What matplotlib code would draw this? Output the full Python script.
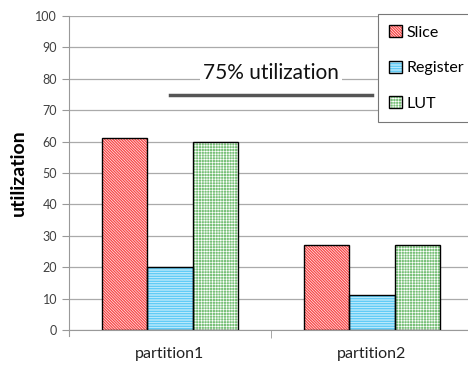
import numpy as np
import matplotlib
matplotlib.use("Agg")
import matplotlib.pyplot as plt
from matplotlib.patches import Patch

plt.rcParams['font.family'] = ['Lato', 'DejaVu Sans']

partitions = ['partition1', 'partition2']
slice_util = [61, 27]
register_util = [20, 11]
lut_util = [60, 27]
target = 75

series = [('Slice', slice_util, '#f84848', '\\' * 12),
          ('Register', register_util, '#48c4f5', '-' * 10),
          ('LUT', lut_util, '#78c078', '+' * 6)]

fig = plt.figure(figsize=(4.68, 3.70), dpi=100)
ax = fig.add_axes([69/468, 40/370, 404/468, 314/370])

x = np.arange(len(partitions))
w = 0.223
plt.rcParams['hatch.color'] = 'white'
plt.rcParams['hatch.linewidth'] = 0.45
handles = []
for i, (name, vals, col, hatch) in enumerate(series):
    pos = x + (i - 1) * w
    # hatched fill first, black outline on top
    ax.bar(pos, vals, w, color=col, hatch=hatch, edgecolor='white', linewidth=0, zorder=2)
    ax.bar(pos, vals, w, fill=False, edgecolor='black', linewidth=1.0, zorder=3)
    handles.append((Patch(facecolor=col, hatch=hatch, edgecolor='white', linewidth=0),
                    Patch(fill=False, edgecolor='black', linewidth=1.0)))

# target line across the group centres
ax.plot([x[0], x[1]], [target, target], color='#555555', lw=2.5, zorder=4)
ax.text(0.5, 82, '%d%% utilization' % target, ha='center', va='center', fontsize=15,
        color='#111111', zorder=5,
        bbox=dict(facecolor='white', edgecolor='none', pad=2))

ax.set_xlim(-0.5, 1.5)
ax.set_ylim(0, 100)
ax.set_yticks(np.arange(0, 101, 10))
ax.set_xticks(x)
ax.set_xticklabels(partitions, fontsize=11.5, color='#222222')
ax.set_xticks([0.5], minor=True)
ax.tick_params(axis='x', which='major', length=0, pad=12)
ax.tick_params(axis='x', which='minor', length=6, color='#999999')
ax.tick_params(axis='y', length=5, color='#999999', labelsize=9, labelcolor='#404040')
ax.yaxis.grid(True, color='#aaaaaa', lw=0.9)
ax.set_axisbelow(True)
for s in ['top', 'right']:
    ax.spines[s].set_visible(False)
ax.spines['left'].set_color('#999999')
ax.spines['bottom'].set_color('#999999')
ax.spines['left'].set_bounds(-2, 100)
ax.set_ylabel('utilization', fontsize=14, fontweight='bold', labelpad=6)

leg = fig.legend(handles=handles, labels=[s[0] for s in series], loc='upper left',
                 bbox_to_anchor=(378/468, 1 - 14/370),
                 fontsize=11.5, handlelength=0.8, handleheight=0.8, handletextpad=0.3,
                 labelspacing=1.3, borderpad=0.7, fancybox=False, framealpha=1,
                 edgecolor='#777777', borderaxespad=0)
leg.get_frame().set_linewidth(0.8)

fig.savefig('out.png', dpi=100)
